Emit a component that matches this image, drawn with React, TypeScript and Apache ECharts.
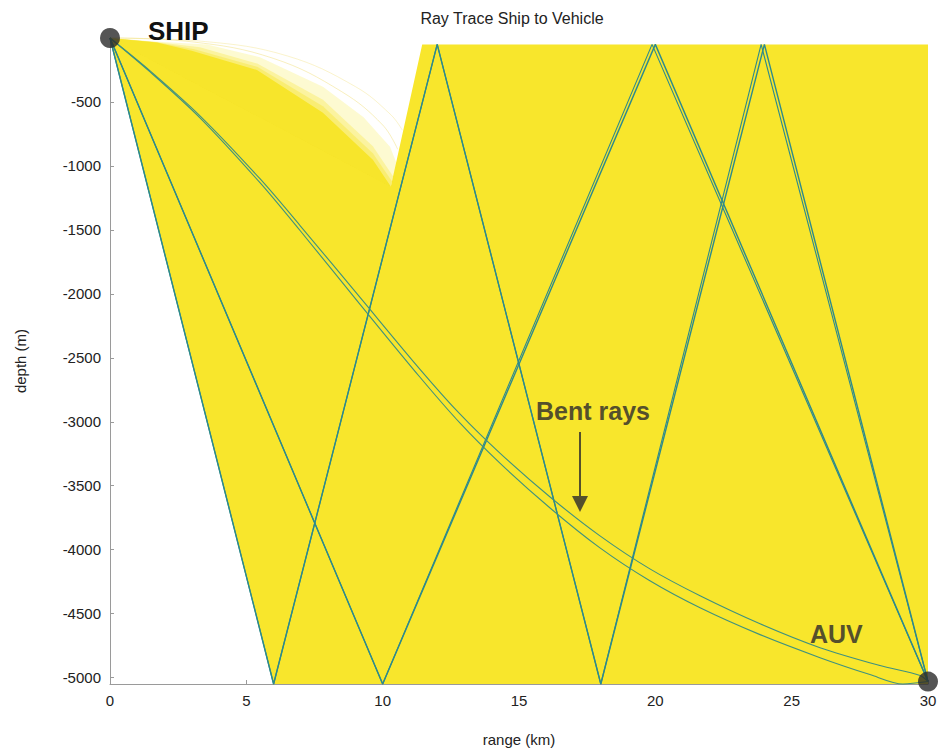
import React, { useEffect, useRef } from "react";
import * as echarts from "echarts";

// ---- axis ticks ----
const xTickValues = [0, 5, 10, 15, 20, 25, 30];
const yTickValues = [-500, -1000, -1500, -2000, -2500, -3000, -3500, -4000, -4500, -5000];

// ---- end points ----
const shipPos = [0, 0];
const auvPos = [30, -5031];

// ---- steep (straight, multiply reflected) rays: range km, depth m ----
const rayA1 = [[0, 0], [6, -5050], [12, -50], [18, -5050], [24, -50], [30, -5031]];
const rayA2 = [[0, 0], [6, -5050], [12, -50], [18, -5050], [23.88, -50], [30, -5031]];
const rayB1 = [[0, 0], [10, -5050], [20, -50], [30, -5031]];
const rayB2 = [[0, 0], [10, -5050], [19.88, -50], [30, -5031]];

// ---- bent rays ----
const bentUpper = [
  [0, 0], [1.47, -257], [3.3, -608], [5.5, -1100], [6.97, -1466], [9.17, -2028],
  [11.37, -2590], [12.84, -2941], [14.3, -3245], [16.14, -3588], [17.97, -3892],
  [19.8, -4150], [21.64, -4360], [23.84, -4579], [26.04, -4766], [28.24, -4906],
  [29.71, -4984], [30, -5031],
];
const bentLower = [
  [0, 0], [1.47, -265], [3.3, -624], [5.5, -1131], [6.97, -1505], [9.17, -2082],
  [11.37, -2652], [12.84, -3011], [14.3, -3323], [16.14, -3674], [17.97, -3986],
  [19.8, -4243], [21.64, -4454], [23.84, -4664], [26.04, -4844], [27.87, -4976],
  [29.08, -5050], [30, -5031],
];

// ---- faint rays in the shadow zone ----
const faintRay1 = [[0, 0], [3, -30], [6, -160], [8.5, -420], [10.0, -680], [10.55, -870]];
const faintRay2 = [[0, 0], [3.5, -28], [6.5, -140], [9, -380], [10.3, -600], [10.72, -720]];

// ---- insonified (yellow) zone ----
const insonified = [
  [0, 0], [6, -5050], [30, -5050], [30, -50], [11.45, -50], [10.3, -1160],
  [9.64, -952], [7.81, -585], [5.39, -250], [3, -100], [1.72, -35], [0, 0],
];
const fadeOuter = [[0, 0], [1.5, -25], [3.56, -50], [5.5, -150], [7.81, -382], [9.3, -620], [10.27, -850], [10.55, -1000], [10.3, -1160]];
const fadeMid = [[0, 0], [1.6, -30], [3.3, -72], [5.4, -200], [7.81, -483], [9.64, -846], [10.38, -1080], [10.3, -1160]];
const fadeInner = [[0, 0], [1.7, -33], [3.1, -88], [5.4, -225], [7.81, -534], [9.64, -900], [10.34, -1120], [10.3, -1160]];

const YELLOW = "#f8e62c";
const RAY = "#2e8a8c";
const BENT = "#3f917f";
const OLIVE = "#55502c";
const FONT = "'Liberation Sans', Arial, Helvetica, sans-serif";

function polygonSeries(pts: number[][], fill: string, opacity: number, z: number) {
  return {
    type: "custom",
    coordinateSystem: "cartesian2d",
    data: pts,
    encode: { x: 0, y: 1 },
    silent: true,
    z,
    renderItem: (params: any, api: any) => {
      if (params.dataIndex !== 0) return null;
      const points = pts.map((p) => api.coord(p));
      return { type: "polygon", shape: { points }, style: { fill, opacity } };
    },
  };
}

function lineSeries(data: number[][], color: string, width: number, smooth: number | boolean, z = 3) {
  return {
    type: "line",
    data,
    symbol: "none",
    showSymbol: false,
    smooth,
    clip: false,
    silent: true,
    z,
    lineStyle: { color, width },
  };
}

export default function App() {
  const ref = useRef<HTMLDivElement>(null);
  useEffect(() => {
    if (!ref.current) return;
    const chart = echarts.init(ref.current, undefined, { renderer: "svg" });
    chart.setOption({
      animation: false,
      backgroundColor: "#ffffff",
      textStyle: { fontFamily: FONT },
      grid: { left: 110, right: 12, top: 38, bottom: 66 },
      xAxis: {
        type: "value",
        min: 0,
        max: 30,
        interval: 5,
        name: "range (km)",
        nameLocation: "middle",
        nameGap: 48,
        nameTextStyle: { color: "#222", fontSize: 15, fontFamily: FONT },
        axisLine: { show: true, onZero: false, lineStyle: { color: "#9a9a9a", width: 1 } },
        axisTick: { show: true, inside: true, length: 4, lineStyle: { color: "#9a9a9a" }, customValues: xTickValues },
        axisLabel: { color: "#222", fontSize: 15, margin: 9, fontFamily: FONT, customValues: xTickValues, formatter: (v: number) => String(v) },
        splitLine: { show: false },
      },
      yAxis: {
        type: "value",
        min: -5050,
        max: 0,
        name: "depth (m)",
        nameLocation: "middle",
        nameRotate: 90,
        nameGap: 82,
        nameTextStyle: { color: "#222", fontSize: 15, fontFamily: FONT },
        axisLine: { show: true, onZero: false, lineStyle: { color: "#9a9a9a", width: 1 } },
        axisTick: { show: true, inside: true, length: 4, lineStyle: { color: "#9a9a9a" }, customValues: yTickValues },
        axisLabel: { color: "#222", fontSize: 15, margin: 9, fontFamily: FONT, customValues: yTickValues, formatter: (v: number) => String(v) },
        splitLine: { show: false },
      },
      series: [
        polygonSeries(insonified, YELLOW, 1, 1),
        polygonSeries(fadeOuter, YELLOW, 0.22, 1),
        polygonSeries(fadeMid, YELLOW, 0.3, 1),
        polygonSeries(fadeInner, YELLOW, 0.38, 1),
        lineSeries(faintRay1, "rgba(240,220,110,0.45)", 1, 0.4, 2),
        lineSeries(faintRay2, "rgba(240,220,110,0.35)", 1, 0.4, 2),
        lineSeries(rayA1, RAY, 1.4, false),
        lineSeries(rayA2, RAY, 1.1, false),
        lineSeries(rayB1, RAY, 1.4, false),
        lineSeries(rayB2, RAY, 1.1, false),
        lineSeries(bentUpper, BENT, 1.1, 0.3),
        lineSeries(bentLower, BENT, 1.1, 0.3),
        {
          type: "scatter",
          data: [shipPos, auvPos],
          symbolSize: 20,
          clip: false,
          silent: true,
          z: 6,
          itemStyle: { color: "#2b2b2b" },
        },
      ],
      graphic: [
        {
          type: "text",
          left: 148,
          top: 18,
          z: 10,
          style: { text: "SHIP", fill: "#111", font: `bold 26px ${FONT}` },
        },
        {
          type: "text",
          x: 512,
          y: 18,
          z: 10,
          style: { text: "Ray Trace Ship to Vehicle", fill: "#222", font: `16px ${FONT}`, textAlign: "center", textVerticalAlign: "middle" },
        },
        {
          type: "text",
          x: 536,
          y: 411,
          z: 10,
          style: { text: "Bent rays", fill: OLIVE, font: `bold 25px ${FONT}`, textAlign: "left", textVerticalAlign: "middle" },
        },
        {
          type: "line",
          z: 10,
          shape: { x1: 580, y1: 432, x2: 580, y2: 500 },
          style: { stroke: OLIVE, lineWidth: 2 },
        },
        {
          type: "polygon",
          z: 10,
          shape: { points: [[572, 496], [588, 496], [580, 512]] },
          style: { fill: OLIVE },
        },
        {
          type: "text",
          x: 810,
          y: 634,
          z: 10,
          style: { text: "AUV", fill: OLIVE, font: `bold 25px ${FONT}`, textAlign: "left", textVerticalAlign: "middle" },
        },
      ],
    });
    return () => chart.dispose();
  }, []);
  return <div ref={ref} style={{ position: "fixed", left: 0, top: 0, width: 940, height: 752 }} />;
}
